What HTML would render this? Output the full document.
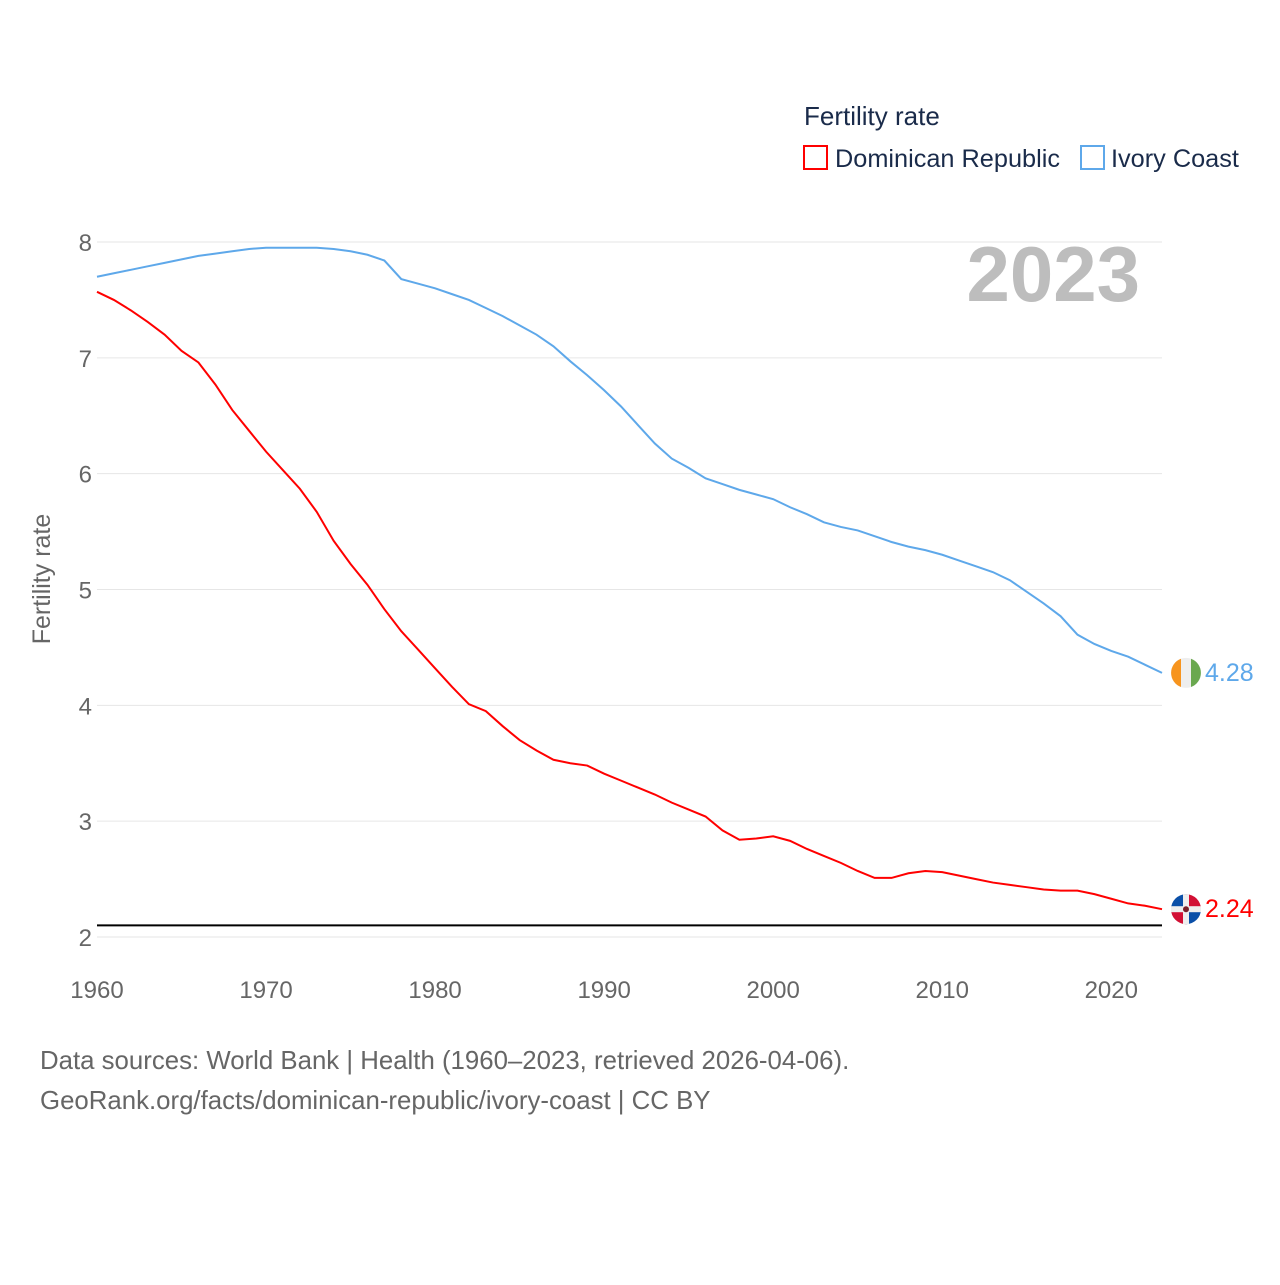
<!DOCTYPE html>
<html><head><meta charset="utf-8"><style>
body{margin:0;background:#fff;font-family:"Liberation Sans",sans-serif;}
svg text{font-family:"Liberation Sans",sans-serif;}
</style></head><body>
<svg id="chart" width="1280" height="1280" xmlns="http://www.w3.org/2000/svg">
<text x="804" y="125" font-size="26" fill="#1a2b4a">Fertility rate</text>
<g>
<rect x="804" y="146" width="23" height="23" fill="none" stroke="#ff0000" stroke-width="2"/>
<text x="835" y="167" font-size="25.3" fill="#1a2b4a">Dominican Republic</text></g>
<g>
<rect x="1081" y="146" width="23" height="23" fill="none" stroke="#5ea8ea" stroke-width="2"/>
<text x="1111" y="167" font-size="25.3" fill="#1a2b4a">Ivory Coast</text></g>
<text x="1140" y="301" font-size="78" font-weight="bold" fill="#bdbdbd" text-anchor="end">2023</text>
<text transform="translate(50,579) rotate(-90)" font-size="25" fill="#666" text-anchor="middle">Fertility rate</text>
<g id="grid"></g><g id="xt"></g><g id="lines"></g>
<text x="40" y="1069" font-size="25.8" fill="#666">Data sources: World Bank | Health (1960–2023, retrieved 2026-04-06).</text>
<text x="40" y="1109" font-size="25.8" fill="#666">GeoRank.org/facts/dominican-republic/ivory-coast | CC BY</text>
</svg>
<script>
const years=[];for(let y=1960;y<=2023;y++)years.push(y);
const yTicks=[2,3,4,5,6,7,8];
const xTicks=[1960,1970,1980,1990,2000,2010,2020];
const replacementRate=2.1;
const dominican=[7.57,7.5,7.41,7.31,7.2,7.06,6.96,6.77,6.55,6.37,6.19,6.03,5.87,5.67,5.42,5.22,5.04,4.83,4.64,4.48,4.32,4.16,4.01,3.95,3.82,3.7,3.61,3.53,3.5,3.48,3.41,3.35,3.29,3.23,3.16,3.1,3.04,2.92,2.84,2.85,2.87,2.83,2.76,2.7,2.64,2.57,2.51,2.51,2.55,2.57,2.56,2.53,2.5,2.47,2.45,2.43,2.41,2.4,2.4,2.37,2.33,2.29,2.27,2.24];
const ivory=[7.7,7.73,7.76,7.79,7.82,7.85,7.88,7.9,7.92,7.94,7.95,7.95,7.95,7.95,7.94,7.92,7.89,7.84,7.68,7.64,7.6,7.55,7.5,7.43,7.36,7.28,7.2,7.1,6.97,6.85,6.72,6.58,6.42,6.26,6.13,6.05,5.96,5.91,5.86,5.82,5.78,5.71,5.65,5.58,5.54,5.51,5.46,5.41,5.37,5.34,5.3,5.25,5.2,5.15,5.08,4.98,4.88,4.77,4.61,4.53,4.47,4.42,4.35,4.28];
const X=y=>97+(y-1960)*(1162-97)/63;
const Y=v=>937-(v-2)*(937-242)/6;
const NS="http://www.w3.org/2000/svg";
function mk(t,a,p){const e=document.createElementNS(NS,t);for(const k in a)e.setAttribute(k,a[k]);p.appendChild(e);return e;}
const grid=document.getElementById('grid'),xt=document.getElementById('xt'),lines=document.getElementById('lines');
yTicks.forEach(v=>{
 const l=mk('line',{x1:97,x2:1162,y1:Y(v),y2:Y(v),stroke:'#e6e6e6','stroke-width':1},grid);
 
 
 const t=mk('text',{x:92,y:Y(v)+9,'font-size':24,fill:'#666','text-anchor':'end'},grid);t.textContent=v;
 
 
});
xTicks.forEach(v=>{
 const t=mk('text',{x:X(v),y:998,'font-size':24,fill:'#666','text-anchor':'middle'},xt);t.textContent=v;
 
 
});
const rl=mk('line',{x1:97,x2:1162,y1:Y(replacementRate),y2:Y(replacementRate),stroke:'#000','stroke-width':2},lines);


function series(vals,col,name){
 const p=mk('polyline',{points:vals.map((v,i)=>X(years[i])+','+Y(v)).join(' '),fill:'none',stroke:col,'stroke-width':2},lines);
 
 
 const last=vals[vals.length-1],cy=Y(last);
 const g=mk('g',{},lines);
 
 
 return {g,cy,last};
}
const iv=series(ivory,'#5ea8ea','ivory-coast');
mk('circle',{cx:1186,cy:iv.cy,r:15,fill:'#eee'},iv.g);
mk('path',{d:`M1181,${iv.cy-14.1} A15,15 0 0 0 1181,${iv.cy+14.1} Z`,fill:'#f7941d'},iv.g);
mk('path',{d:`M1191,${iv.cy-14.1} A15,15 0 0 1 1191,${iv.cy+14.1} Z`,fill:'#6aa84f'},iv.g);
let t=mk('text',{x:1205,y:iv.cy+8,'font-size':25,fill:'#5ea8ea'},lines);t.textContent=iv.last.toFixed(2);


const dr=series(dominican,'#ff0000','dominican-republic');
const c=dr.cy;
mk('circle',{cx:1186,cy:c,r:15,fill:'#eee'},dr.g);
mk('path',{d:`M1186,${c} L1186,${c-15} A15,15 0 0 0 1171,${c} Z`,fill:'#0a4fa8'},dr.g);
mk('path',{d:`M1186,${c} L1201,${c} A15,15 0 0 0 1186,${c-15} Z`,fill:'#d21034'},dr.g);
mk('path',{d:`M1186,${c} L1171,${c} A15,15 0 0 0 1186,${c+15} Z`,fill:'#d21034'},dr.g);
mk('path',{d:`M1186,${c} L1186,${c+15} A15,15 0 0 0 1201,${c} Z`,fill:'#0a4fa8'},dr.g);
mk('rect',{x:1183,y:c-15,width:6,height:30,fill:'#eee'},dr.g);
mk('rect',{x:1171,y:c-3,width:30,height:6,fill:'#eee'},dr.g);
mk('circle',{cx:1186,cy:c,r:3,fill:'#7a1f2b'},dr.g);
t=mk('text',{x:1205,y:c+8,'font-size':25,fill:'#ff0000'},lines);t.textContent=dr.last.toFixed(2);


</script>
</body></html>
